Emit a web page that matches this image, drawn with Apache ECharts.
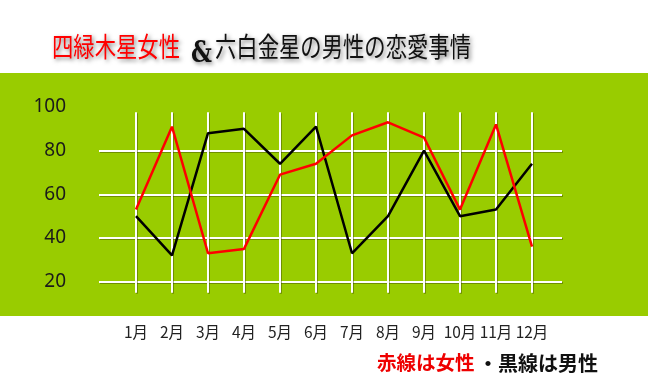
<!DOCTYPE html>
<html>
<head>
<meta charset="utf-8">
<script src="https://cdn.jsdelivr.net/npm/echarts@6/dist/echarts.min.js"></script>
<style>
html,body{margin:0;padding:0;background:#fff;}
#c{width:648px;height:388px;}
</style>
</head>
<body>
<div id="c"></div>
<script>
var months = ['1月','2月','3月','4月','5月','6月','7月','8月','9月','10月','11月','12月'];
var femaleValues = [53, 91, 33, 35, 69, 74, 87, 93, 86, 53, 92, 36];
var maleValues = [50, 32, 88, 90, 74, 91, 33, 50, 80, 50, 53, 74];
var yTicks = [0, 100, 20];
var titleRed = '四緑木星女性';
var titleAmp = '&';
var titleBlack = '六白金星の男性の恋愛事情';
var noteRed = '赤線は女性';
var noteBlack = '・黒線は男性';

var chart = echarts.init(document.getElementById('c'), null, {renderer:'canvas'});
var gridLine = {color:'#ffffff', width:2, shadowColor:'rgba(60,70,0,0.45)', shadowOffsetX:1, shadowOffsetY:1, shadowBlur:0};
var shadow = {textShadowColor:'rgba(0,0,0,0.5)', textShadowBlur:4, textShadowOffsetX:2, textShadowOffsetY:2};
var cjk = '"Noto Sans CJK JP", "Noto Sans", sans-serif';

chart.setOption({
  animation:false,
  graphic:[
    {type:'rect', z:-10, shape:{x:0, y:73, width:648, height:243}, style:{fill:'#99cc00'}},
    {type:'text', x:52, y:47, scaleX:0.79, style:Object.assign({text:titleRed, fill:'#ff0000', font:'27px ' + cjk, textVerticalAlign:'middle', textAlign:'left'}, shadow)},
    {type:'text', x:191, y:54, scaleX:0.8, style:Object.assign({text:titleAmp, fill:'#111', font:'bold 29px "DejaVu Serif", serif', textVerticalAlign:'middle', textAlign:'left'}, shadow)},
    {type:'text', x:215, y:47, scaleX:0.79, style:Object.assign({text:titleBlack, fill:'#111', font:'27px ' + cjk, textVerticalAlign:'middle', textAlign:'left'}, shadow)},
    {type:'text', x:377, y:363, style:{text:noteRed, fill:'#ee0000', font:'bold 19.5px ' + cjk, textVerticalAlign:'middle', textAlign:'left'}},
    {type:'text', x:478, y:363, style:{text:noteBlack, fill:'#111', font:'bold 20px ' + cjk, textVerticalAlign:'middle', textAlign:'left'}}
  ],
  grid:[
    {left:99, right:86, top:107, bottom:62.7},
    {left:136, right:116, top:112.3, bottom:95.3},
    {left:136, right:116, top:107, bottom:62.7}
  ],
  xAxis:[
    {gridIndex:0, type:'value', min:0, max:1, show:false},
    {gridIndex:1, type:'category', data:months, boundaryGap:false,
      axisLine:{show:false}, axisTick:{show:false}, axisLabel:{show:false},
      splitLine:{show:true, lineStyle:gridLine}},
    {gridIndex:2, type:'category', data:months, boundaryGap:false,
      axisLine:{show:false}, axisTick:{show:false}, splitLine:{show:false},
      axisLabel:{show:true, margin:-1, color:'#222', fontSize:15.5, fontFamily:cjk, interval:0}}
  ],
  yAxis:[
    {gridIndex:0, type:'value', min:yTicks[0], max:yTicks[1], interval:yTicks[2],
      axisLine:{show:false}, axisTick:{show:false},
      axisLabel:{margin:33, color:'#1a1a1a', fontSize:19, fontFamily:'"Noto Sans", sans-serif',
        formatter:function(v){return v === 0 ? '' : String(v);}},
      splitLine:{show:true, showMinLine:false, showMaxLine:false, lineStyle:gridLine}},
    {gridIndex:1, type:'value', min:0, max:1, show:false, splitLine:{show:false}},
    {gridIndex:2, type:'value', min:yTicks[0], max:yTicks[1], show:false, splitLine:{show:false}}
  ],
  series:[
    {type:'line', xAxisIndex:2, yAxisIndex:2, data:maleValues, symbol:'none', z:5,
      lineStyle:{color:'#000000', width:2.5}},
    {type:'line', xAxisIndex:2, yAxisIndex:2, data:femaleValues, symbol:'none', z:6,
      lineStyle:{color:'#ff0000', width:2.5}}
  ]
});
</script>
</body>
</html>
